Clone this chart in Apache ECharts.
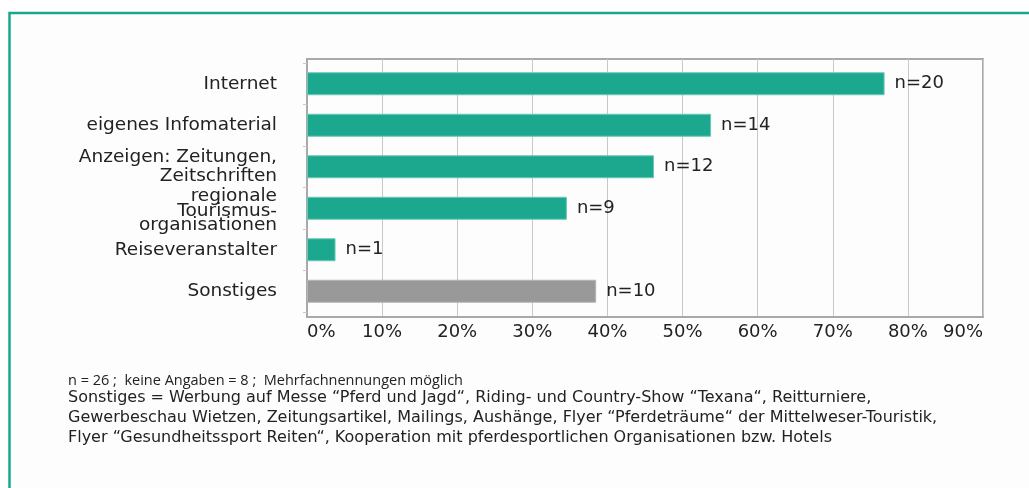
<!DOCTYPE html>
<html><head><meta charset="utf-8">
<script src="https://cdn.jsdelivr.net/npm/echarts@6/dist/echarts.min.js"></script>
<style>html,body{margin:0;padding:0;background:#fff}#c{width:1029px;height:488px}</style>
</head><body><div id="c"></div>
<script>
// ---- data ----
const categories = [
  'Internet',
  'eigenes Infomaterial',
  'Anzeigen: Zeitungen,\nZeitschriften',
  'regionale\nTourismus-\norganisationen',
  'Reiseveranstalter',
  'Sonstiges'
];
const percentValues = [76.9, 53.8, 46.2, 34.6, 3.8, 38.5];
const nCounts = [20, 14, 12, 9, 1, 10];
const xMin = 0, xMax = 90, xStep = 10; // tick labels 0% ... 90%
const otherCategory = 'Sonstiges';
const noteFirst = 'n = 26 ;  keine Angaben = 8 ;  Mehrfachnennungen möglich';
const noteLines = [
  'Sonstiges = Werbung auf Messe “Pferd und Jagd“, Riding- und Country-Show “Texana“, Reitturniere,',
  'Gewerbeschau Wietzen, Zeitungsartikel, Mailings, Aushänge, Flyer “Pferdeträume“ der Mittelweser-Touristik,',
  'Flyer “Gesundheitssport Reiten“, Kooperation mit pferdesportlichen Organisationen bzw. Hotels'
];

// ---- chart ----
const TEAL = '#1ca88e';
const GREY = '#999999';
const FONT = 'DejaVu Sans, Verdana, sans-serif';
const chart = echarts.init(document.getElementById('c'), null, {renderer: 'canvas'});

const barData = percentValues.map((v, i) => ({
  value: v,
  itemStyle: categories[i] === otherCategory
    ? {color: GREY, borderColor: '#b5b5b5', borderWidth: 1}
    : {color: TEAL, borderColor: '#6cc9b6', borderWidth: 1}
}));

const option = {
  animation: false,
  backgroundColor: '#ffffff',
  graphic: [
    {type: 'rect', z: -10, silent: true,
     shape: {x: 9.5, y: 13, width: 1100, height: 600},
     style: {fill: '#fdfdfd', stroke: '#1aa68c', lineWidth: 2.5}},
    {type: 'text', left: 68, top: 373, silent: true,
     style: {text: noteFirst, font: '14.5px "Open Sans", sans-serif', fill: '#222'}},
    {type: 'text', left: 68, top: 388, silent: true,
     style: {text: noteLines.join('\n'), font: '16px ' + FONT, lineHeight: 20, fill: '#222'}}
  ],
  grid: [
    {left: 307, right: 46, top: 59, bottom: 171, show: true, borderColor: '#a9a9a9', borderWidth: 2,
     containLabel: false, outerBoundsMode: 'none', backgroundColor: 'transparent'},
    {left: 307, right: 46, top: 63, bottom: 176, containLabel: false, outerBoundsMode: 'none'}
  ],
  xAxis: [
    {type: 'value', gridIndex: 0, min: xMin, max: xMax, interval: xStep,
     axisLine: {show: true, lineStyle: {color: '#a9a9a9', width: 2}},
     axisTick: {show: false},
     splitLine: {show: true, lineStyle: {color: '#c8c8c8', width: 1}},
     axisLabel: {show: true, formatter: '{value}%', color: '#222', fontFamily: FONT, fontSize: 18,
                 margin: 6, showMinLabel: true, showMaxLabel: true, hideOverlap: false,
                 alignMinLabel: 'left', alignMaxLabel: 'right'}},
    {type: 'value', gridIndex: 1, min: xMin, max: xMax, interval: xStep, show: false,
     splitLine: {show: false}}
  ],
  yAxis: [
    {type: 'category', gridIndex: 0, data: [''], inverse: true,
     axisLine: {show: true, lineStyle: {color: '#a9a9a9', width: 2}},
     axisTick: {show: false}, axisLabel: {show: false}, splitLine: {show: false}},
    {type: 'category', gridIndex: 1, data: categories, inverse: true,
     axisLine: {show: false},
     axisTick: {show: true, length: 4, lineStyle: {color: '#c8c8c8'}},
     splitLine: {show: false},
     axisLabel: {show: true, color: '#222', fontFamily: FONT, fontSize: 18.5, lineHeight: 19, margin: 30,
                 align: 'right', interval: 0,
                 formatter: v => {
                   const parts = v.split('\n');
                   if (parts.length > 2) {
                     return '{e| }\n' + parts.map(p => '{s|' + p + '}').join('\n');
                   }
                   return v;
                 },
                 rich: {
                   s: {fontFamily: FONT, fontSize: 18.5, lineHeight: 14.5, color: '#222', align: 'right'},
                   e: {fontSize: 1, lineHeight: 5, align: 'right'}
                 }}}
  ],
  series: [{
    type: 'bar', xAxisIndex: 1, yAxisIndex: 1, data: barData, barWidth: 23,
    label: {show: true, position: 'right', distance: 10, color: '#222', fontFamily: FONT, fontSize: 18,
            formatter: p => 'n=' + nCounts[p.dataIndex]}
  }]
};
chart.setOption(option);
</script></body></html>
